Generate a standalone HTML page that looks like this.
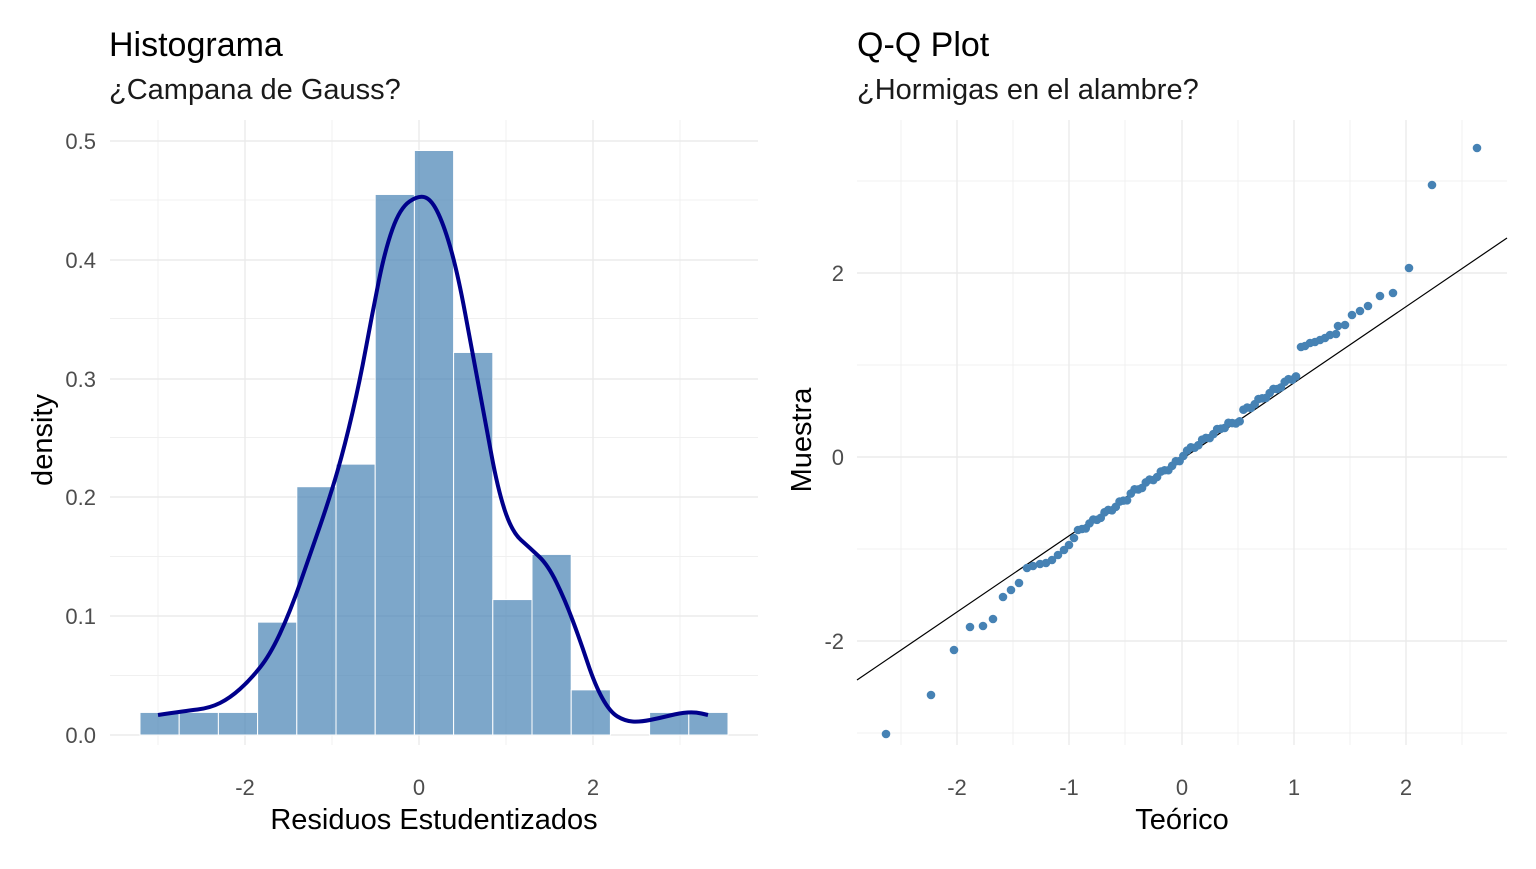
<!DOCTYPE html>
<html><head><meta charset="utf-8"><style>
body{margin:0;background:#fff;}
svg text{font-family:"Liberation Sans",Arial,sans-serif;}
</style></head><body>
<svg id="s" width="1536" height="864" xmlns="http://www.w3.org/2000/svg">
<rect width="1536" height="864" fill="#fff"/>
<g id="L"></g><g id="R"></g>
<text x="109" y="56" font-size="34" fill="#000">Histograma</text>
<text x="109" y="99" font-size="29" fill="#1a1a1a">¿Campana de Gauss?</text>
<text x="857" y="56" font-size="34" fill="#000">Q-Q Plot</text>
<text x="857" y="99" font-size="29" fill="#1a1a1a">¿Hormigas en el alambre?</text>
<g font-size="22" fill="#4d4d4d" text-anchor="end">
<text x="96" y="149">0.5</text><text x="96" y="268">0.4</text><text x="96" y="387">0.3</text>
<text x="96" y="505">0.2</text><text x="96" y="624">0.1</text><text x="96" y="743">0.0</text>
<text x="844" y="281">2</text><text x="844" y="465">0</text><text x="844" y="649">-2</text>
</g>
<g font-size="22" fill="#4d4d4d" text-anchor="middle">
<text x="245" y="795">-2</text><text x="419" y="795">0</text><text x="593" y="795">2</text>
<text x="957" y="795">-2</text><text x="1069" y="795">-1</text><text x="1182" y="795">0</text><text x="1294" y="795">1</text><text x="1406" y="795">2</text>
</g>
<text x="434" y="829" font-size="29" text-anchor="middle">Residuos Estudentizados</text>
<text x="1182" y="829" font-size="29" text-anchor="middle">Teórico</text>
<text transform="translate(52,440) rotate(-90)" font-size="29" text-anchor="middle">density</text>
<text transform="translate(811,440) rotate(-90)" font-size="29" text-anchor="middle">Muestra</text>
</svg>
<script>
const NS="http://www.w3.org/2000/svg";
function el(p,t,a){const e=document.createElementNS(NS,t);for(const k in a)e.setAttribute(k,a[k]);p.appendChild(e);return e;}
const L=document.getElementById('L'),R=document.getElementById('R');
for(const y of [675.5,556.5,437.5,318.5,200]) el(L,'line',{x1:110,x2:758,y1:y,y2:y,stroke:'#f0f0f0','stroke-width':1});
for(const x of [158,332,506,680]) el(L,'line',{x1:x,x2:x,y1:120,y2:745,stroke:'#f0f0f0','stroke-width':1});
for(const y of [735,616,497,379,260,141]) el(L,'line',{x1:110,x2:758,y1:y,y2:y,stroke:'#ebebeb','stroke-width':1.4});
for(const x of [245,419,593]) el(L,'line',{x1:x,x2:x,y1:120,y2:745,stroke:'#ebebeb','stroke-width':1.4});
const h=[0.019,0.019,0.019,0.095,0.209,0.228,0.455,0.492,0.322,0.114,0.152,0.038,0,0.019,0.019];
h.forEach((v,i)=>{if(!v)return;const x=140+i*39.2,y=735-v*1188;
el(L,'rect',{x:x,y:y,width:39.2,height:735-y,fill:'#4682b4','fill-opacity':0.7,stroke:'#fff','stroke-width':1});});
const c=[[158,715],[185,711],[210,708],[230,698],[250,680],[270,655],[290,612],[310,555],[330,497],[345,445],[360,380],[372,315],[385,250],[400,208],[419,195],[432,200],[445,228],[458,275],[472,350],[485,420],[498,490],[512,532],[530,548],[548,565],[565,600],[580,640],[595,685],[610,712],[625,721],[640,722],[660,718],[680,713],[695,712],[708,715]];
let d='M'+c[0].join(',');for(let i=1;i<c.length-1;i++){const m=[(c[i][0]+c[i+1][0])/2,(c[i][1]+c[i+1][1])/2];d+=' Q'+c[i].join(',')+' '+m.join(',');}d+=' L'+c[c.length-1].join(',');
el(L,'path',{d:d,fill:'none',stroke:'#00008b','stroke-width':4});
for(const y of [181,365,549,733]) el(R,'line',{x1:857,x2:1507,y1:y,y2:y,stroke:'#f0f0f0','stroke-width':1});
for(const x of [901,1013,1125,1238,1350,1462]) el(R,'line',{x1:x,x2:x,y1:120,y2:745,stroke:'#f0f0f0','stroke-width':1});
for(const y of [273,457,641]) el(R,'line',{x1:857,x2:1507,y1:y,y2:y,stroke:'#ebebeb','stroke-width':1.4});
for(const x of [957,1069,1182,1294,1406]) el(R,'line',{x1:x,x2:x,y1:120,y2:745,stroke:'#ebebeb','stroke-width':1.4});
el(R,'line',{x1:857,y1:680,x2:1507,y2:238,stroke:'#000','stroke-width':1.2});
const pts=[[886,734],[931,695],[954,650],[970,627],[983,626],[993,619],[1003,597],[1011,590],[1019,583],[1027,568],[1033,566],[1040,564],[1046,563],[1052,560],[1058,555],[1064,550],[1069,545],[1074,538],[1078,530],
[1301,347],[1305,346],[1310,343],[1315,342],[1320,340],[1325,338],[1330,335],[1336,334],[1338,326],[1345,325],[1352,315],[1360,311],[1368,306],[1380,296],[1393,293],[1409,268],[1432,185],[1477,148]];
for(let i=0;i<58;i++){const x=1082+i*(1296-1082)/57;let y=680-0.68*(x-857);
if(x<1130)y+=2;else if(x>1180&&x<1230)y-=4;else if(x>1240)y-=6;y+=Math.sin(i*1.7)*2;pts.push([x,y]);}
pts.forEach(p=>el(R,'circle',{cx:p[0],cy:p[1],r:4.3,fill:'#4682b4'}));
</script>
</body></html>
